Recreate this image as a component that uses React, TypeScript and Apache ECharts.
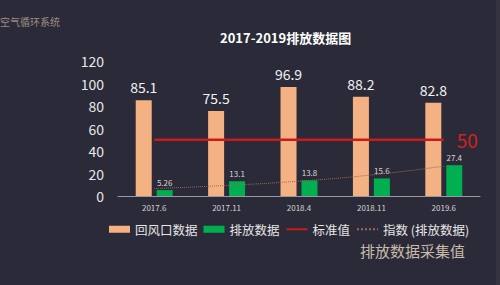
import React, { useEffect, useRef } from "react";
import * as echarts from "echarts";

const categories = ["2017.6", "2017.11", "2018.4", "2018.11", "2019.6"];
const returnAir = [85.1, 75.5, 96.9, 88.2, 82.8];
const emission = [5.26, 13.1, 13.8, 15.6, 27.4];
const standard = [50, 50, 50, 50, 50];
const trend = [6.6, 9.4, 13.2, 18.7, 26.5];
const yTicks = [0, 20, 40, 60, 80, 100, 120];

const FONT = "'Noto Sans CJK SC', 'Noto Sans', sans-serif";

export default function App() {
  const ref = useRef<HTMLDivElement>(null);
  useEffect(() => {
    if (!ref.current) return;
    const chart = echarts.init(ref.current, null, { renderer: "svg" });
    chart.setOption({
      animation: false,
      backgroundColor: "#2b2a38",
      textStyle: { fontFamily: FONT },
      title: {
        text: "2017-2019排放数据图",
        left: 215,
        top: 26,
        textStyle: { color: "#ffffff", fontSize: 13, fontWeight: "bold", fontFamily: FONT },
      },
      graphic: [
        {
          type: "text",
          left: 0,
          top: 16,
          style: { text: "空气循环系统", fill: "#9a8e80", fontSize: 10, fontFamily: FONT },
        },
        {
          type: "text",
          left: 360,
          top: 243,
          style: { text: "排放数据采集值", fill: "#c8bca8", fontSize: 15, fontFamily: FONT },
        },
        {
          type: "rect",
          shape: { x: 496, y: 0, width: 4, height: 285 },
          style: { fill: "#34333f" },
        },
      ],
      legend: {
        left: 104,
        top: 218,
        itemWidth: 21,
        itemHeight: 7,
        itemGap: 6,
        textStyle: { color: "#e6e6e6", fontSize: 12.5, fontFamily: FONT },
        data: [
          { name: "回风口数据", icon: "rect" },
          { name: "排放数据", icon: "rect" },
          { name: "标准值", itemStyle: { opacity: 0 } },
          { name: "指数 (排放数据)", itemStyle: { opacity: 0 } },
        ],
      },
      grid: { left: 118, right: 20, top: 61, bottom: 89 },
      xAxis: {
        type: "category",
        data: categories,
        axisLine: { lineStyle: { color: "#9a9aa2", width: 1 } },
        axisTick: { show: false },
        axisLabel: { color: "#d4d4d4", fontSize: 8, margin: 7, fontFamily: FONT },
      },
      yAxis: {
        type: "value",
        min: yTicks[0],
        max: yTicks[yTicks.length - 1],
        interval: 20,
        splitLine: { show: false },
        axisLine: { show: false },
        axisTick: { show: false },
        axisLabel: { color: "#e8e8e8", fontSize: 14, margin: 14, fontFamily: FONT },
      },
      series: [
        {
          name: "回风口数据",
          type: "bar",
          data: returnAir,
          barWidth: 16,
          barGap: "31%",
          itemStyle: { color: "#f4b183" },
          label: { show: true, position: "top", distance: 6, color: "#f2f2f2", fontSize: 14, fontFamily: FONT },
        },
        {
          name: "排放数据",
          type: "bar",
          data: emission,
          barWidth: 16,
          itemStyle: { color: "#00b050" },
          label: { show: true, position: "top", distance: 4, color: "#d8d8d8", fontSize: 8, fontFamily: FONT },
        },
        {
          name: "标准值",
          type: "line",
          data: standard,
          symbol: "none",
          lineStyle: { color: "#cc1a1a", width: 2.5 },
          itemStyle: { color: "#cc1a1a" },
          endLabel: {
            show: true,
            distance: 13,
            color: "#d42020",
            fontSize: 19,
            fontFamily: FONT,
          },
          z: 5,
        },
        {
          name: "指数 (排放数据)",
          type: "line",
          data: trend,
          smooth: true,
          symbol: "none",
          lineStyle: { color: "#a06a50", width: 1, type: "dotted" },
          itemStyle: { color: "#a06a50" },
          z: 6,
        },
      ],
    });
    return () => chart.dispose();
  }, []);
  return (
    <div
      ref={ref}
      style={{ position: "fixed", left: 0, top: 0, width: 500, height: 285 }}
    />
  );
}
